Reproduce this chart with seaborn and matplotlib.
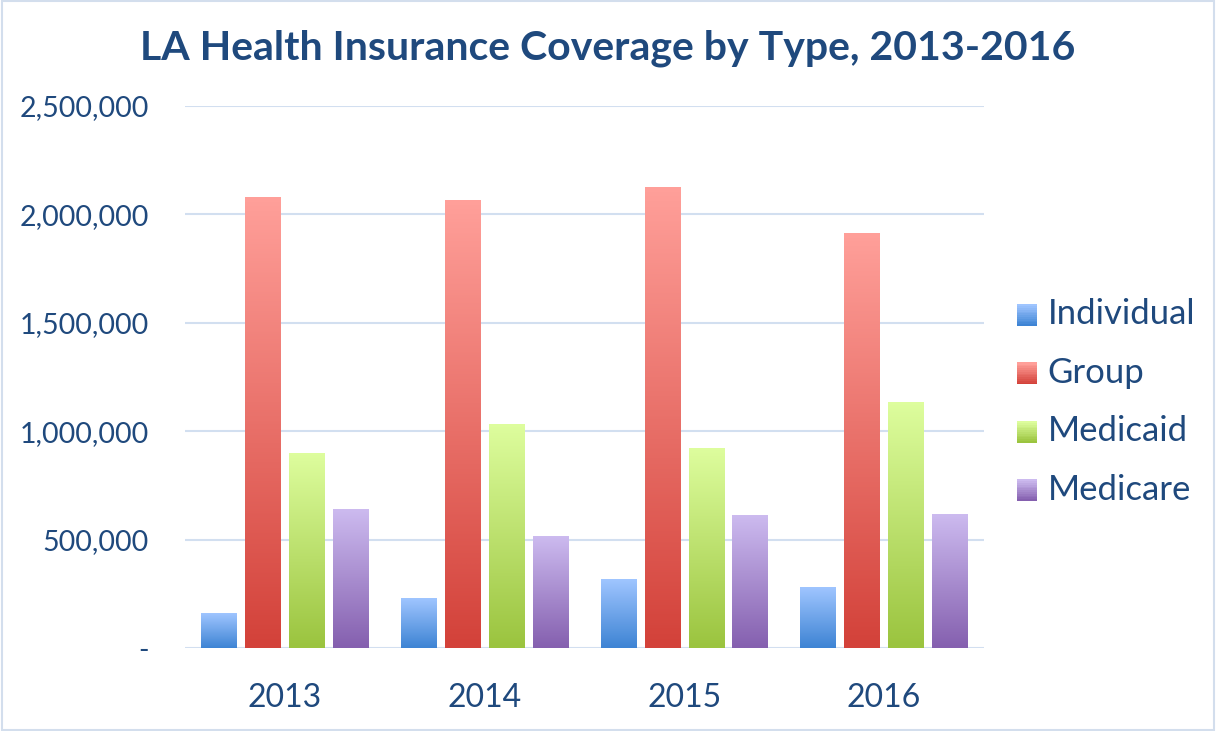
import numpy as np
import pandas as pd
import matplotlib
matplotlib.use('Agg')
import matplotlib.pyplot as plt
import matplotlib.patches as mpatches
from matplotlib.legend_handler import HandlerBase
from matplotlib.ticker import FuncFormatter
import seaborn as sns

# Chart data
years = ['2013', '2014', '2015', '2016']
types = ['Individual', 'Group', 'Medicaid', 'Medicare']
individual = [160000, 229000, 314000, 280000]
group = [2079000, 2065000, 2126000, 1910000]
medicaid = [898000, 1032000, 921000, 1133000]
medicare = [640000, 515000, 612000, 617000]

# gradient colours per series: (top, bottom)
grad = {
    'Individual': ('#9fc5ff', '#3e84d4'),
    'Group': ('#ff9f99', '#d3423a'),
    'Medicaid': ('#ddfd9d', '#9bc43f'),
    'Medicare': ('#ccbaef', '#8560af'),
}
text_col = '#1f497d'
grid_col = '#d2dff0'

df = pd.DataFrame({
    'year': years * 4,
    'type': np.repeat(types, 4),
    'count': individual + group + medicaid + medicare,
})

sns.set_style('white')
plt.rcParams['font.family'] = ['Lato', 'DejaVu Sans']

fig = plt.figure(figsize=(12.16, 7.31), dpi=100)
ax = fig.add_axes([0.152, 0.1135, 0.657, 0.7415])

cmaps = {t: matplotlib.colors.LinearSegmentedColormap.from_list(t, [b, a])
         for t, (a, b) in grad.items()}
mid = {t: cmaps[t](0.5) for t in types}

sns.barplot(data=df, x='year', y='count', hue='type', hue_order=types,
            palette=mid, width=0.88, gap=0.2, ax=ax, legend=False, zorder=3)

# replace flat fills with vertical gradients
n = len(years)
img = np.linspace(1, 0, 64).reshape(-1, 1)
for i, bar in enumerate(ax.patches[:n * len(types)]):
    t = types[i // n]
    x0, y0 = bar.get_x(), bar.get_y()
    w, h = bar.get_width(), bar.get_height()
    ax.imshow(img, cmap=cmaps[t], vmin=0, vmax=1, aspect='auto',
              extent=[x0, x0 + w, y0, y0 + h], zorder=4, interpolation='bilinear')
    bar.set_facecolor('none')
    bar.set_edgecolor('none')

ax.set_xlim(-0.5, 3.5)
ax.set_ylim(0, 2500000)
ax.set_yticks([0, 500000, 1000000, 1500000, 2000000, 2500000])
ax.yaxis.set_major_formatter(FuncFormatter(lambda v, p: '-' if v == 0 else f'{v:,.0f}'))
ax.grid(axis='y', color=grid_col, lw=1.5, zorder=0)
ax.set_axisbelow(True)
for s in ax.spines.values():
    s.set_visible(False)
ax.tick_params(axis='y', length=0, pad=26, labelsize=20.5, labelcolor=text_col)
ax.tick_params(axis='x', length=0, pad=25, labelsize=23, labelcolor=text_col)
ax.set_xlabel('')
ax.set_ylabel('')

fig.text(0.5, 0.934, 'LA Health Insurance Coverage by Type, 2013-2016',
         ha='center', va='center', fontsize=29.5, fontweight='bold', color=text_col)


class GradientHandler(HandlerBase):
    # legend key drawn as a small stack of strips fading top to bottom
    def create_artists(self, legend, orig, xd, yd, width, height, fontsize, trans):
        cm = cmaps[orig.get_label()]
        k = 12
        arts = []
        for j in range(k):
            r = mpatches.Rectangle((xd, yd + height * j / k), width, height / k + 0.3,
                                   facecolor=cm(j / (k - 1)), edgecolor='none', transform=trans)
            arts.append(r)
        return arts


handles = [mpatches.Patch(label=t) for t in types]
fig.legend(handles, types, loc='center left', bbox_to_anchor=(0.836, 0.45),
           frameon=False, fontsize=25, labelcolor=text_col,
           handler_map={mpatches.Patch: GradientHandler()},
           handlelength=0.58, handleheight=0.58, handletextpad=0.32,
           labelspacing=0.76, borderpad=0, borderaxespad=0)

# thin frame around the chart
fig.patches.append(mpatches.Rectangle((0.002, 0.002), 0.996, 0.996, transform=fig.transFigure,
                                      fill=False, edgecolor='#d3deed', lw=1.5))

fig.savefig('out.png', dpi=100)
